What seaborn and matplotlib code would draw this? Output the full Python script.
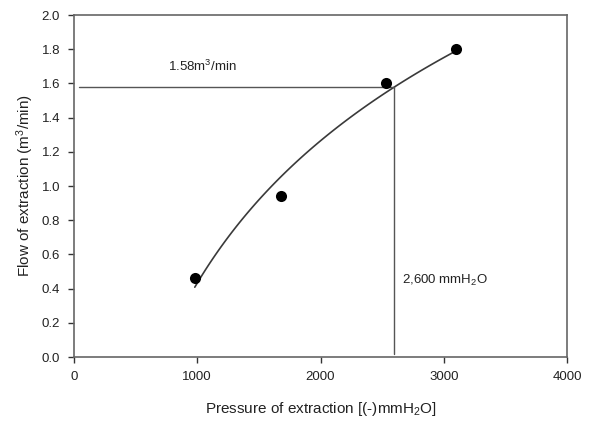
import numpy as np
import pandas as pd
import matplotlib
matplotlib.use("Agg")
import matplotlib.pyplot as plt
import seaborn as sns

# Data
pressure = [980, 1680, 2530, 3100]
flow = [0.46, 0.94, 1.60, 1.80]
ref_pressure = 2600
ref_flow = 1.58
x_ticks = [0, 1000, 2000, 3000, 4000]
y_ticks = [0.0, 0.2, 0.4, 0.6, 0.8, 1.0, 1.2, 1.4, 1.6, 1.8, 2.0]

df = pd.DataFrame({"pressure": pressure, "flow": flow})

sns.set_theme(style="ticks")
plt.rcParams["font.family"] = ["Liberation Sans", "DejaVu Sans"]
plt.rcParams["mathtext.fontset"] = "custom"
plt.rcParams["mathtext.rm"] = "Liberation Sans"
plt.rcParams["mathtext.it"] = "Liberation Sans"
plt.rcParams["mathtext.default"] = "rm"

fig = plt.figure(figsize=(5.89, 4.21), dpi=100)
ax = fig.add_axes([74 / 589, 1 - 357 / 421, (567 - 74) / 589, (357 - 15) / 421])

sns.regplot(data=df, x="pressure", y="flow", logx=True, ci=None, ax=ax,
            scatter_kws=dict(s=64, color="black", edgecolors="black", linewidths=0,
                             alpha=1, zorder=3),
            line_kws=dict(color="#3a3a3a", lw=1.2))

ax.plot([40, ref_pressure], [ref_flow, ref_flow], color="#555555", lw=1.0)
ax.plot([ref_pressure, ref_pressure], [0.02, ref_flow], color="#555555", lw=1.0)

ax.text(760, 1.70, "1.58m$^3$/min", fontsize=9.5, color="#222222", va="center", ha="left")
ax.text(2665, 0.45, "2,600 mmH$_2$O", fontsize=9.5, color="#222222", va="center", ha="left")

ax.set_xlim(0, 4000)
ax.set_ylim(0, 2.0)
ax.set_xticks(x_ticks)
ax.set_yticks(y_ticks)
ax.set_yticklabels([f"{v:.1f}" for v in y_ticks])
ax.set_xlabel("Pressure of extraction [(-)mmH$_2$O]", fontsize=11, color="#222222", labelpad=12)
ax.set_ylabel("Flow of extraction (m$^3$/min)", fontsize=11, color="#222222", labelpad=4)
ax.tick_params(axis="both", labelsize=9.5, colors="#333333", direction="out", length=4, width=1,
               labelcolor="#222222", pad=6)
for s in ax.spines.values():
    s.set_visible(True)
    s.set_color("#666666")
    s.set_linewidth(1.2)

fig.savefig("out.png", dpi=100)
